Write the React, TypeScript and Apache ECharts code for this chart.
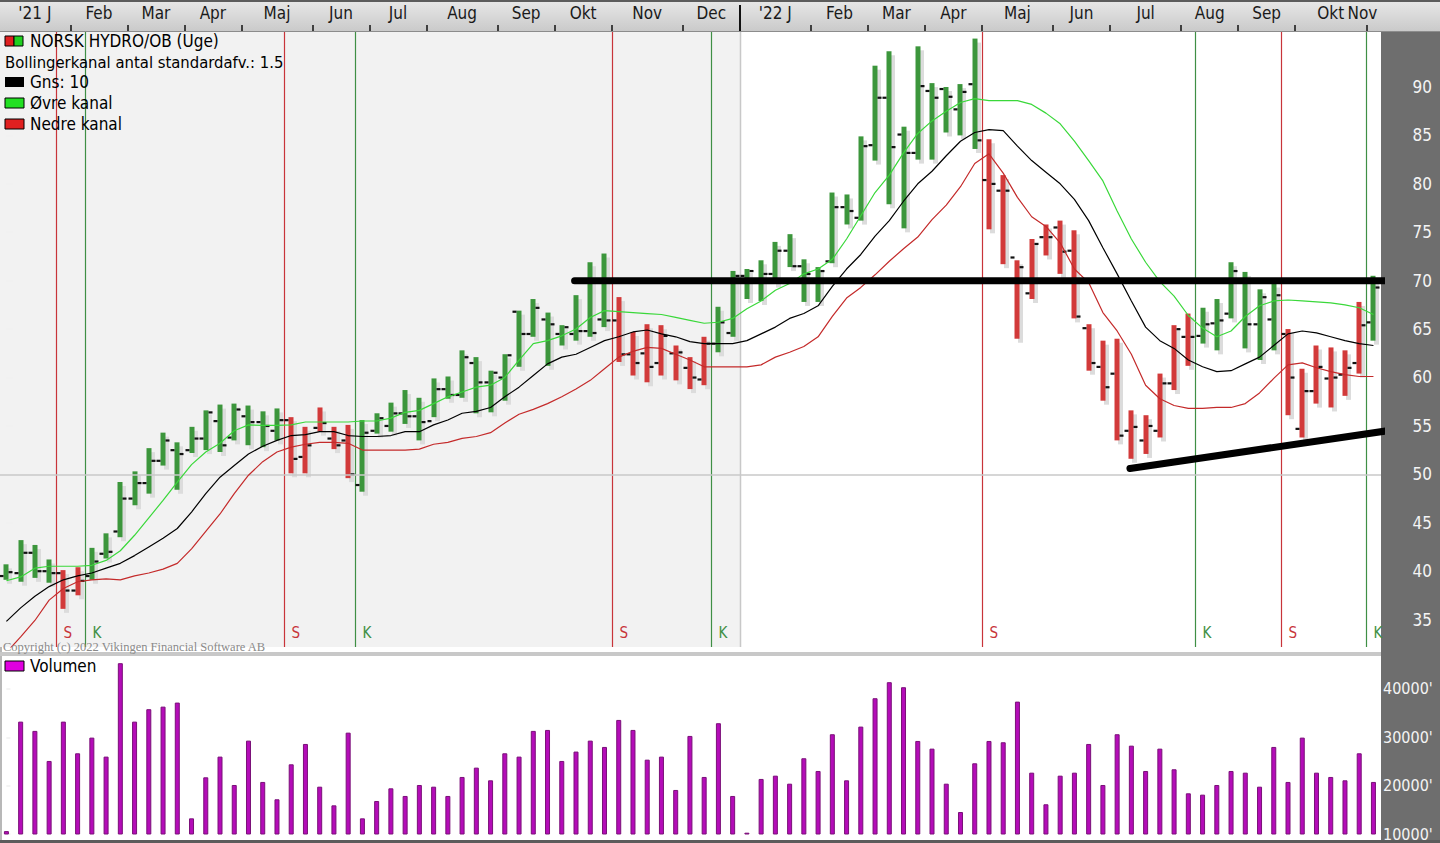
import React, { useEffect, useRef } from "react";
import * as echarts from "echarts";

// ---------- DATA (weekly bars, Jan 2021 - Nov 2022) ----------
const highs = [
  40.7, 43.2, 42.7, 41.2, 40.1, 40.4, 42.4, 43.9, 49.2, 50.3,
  52.7, 54.3, 53.3, 54.9, 56.6, 57.2, 57.3, 57.1, 56.5, 56.8,
  55.9, 54.9, 56.9, 54.9, 55.1, 55.6, 56.3, 57.4, 58.7, 57.9,
  59.9, 60.1, 62.8, 62.1, 60.7, 62.4, 66.9, 68.1, 66.7, 65.4,
  68.5, 71.9, 72.8, 68.3, 64.7, 65.5, 65.4, 63.3, 62.1, 64.2,
  67.3, 71.0, 71.2, 72.1, 74.0, 74.8, 72.2, 71.4, 79.1, 78.9,
  84.9, 92.2, 93.7, 85.9, 94.2, 90.4, 90.0, 90.3, 95.0, 84.6,
  80.9, 72.1, 74.3, 75.8, 76.2, 75.2, 65.5, 63.8, 64.0, 56.6,
  56.1, 60.4, 65.4, 66.6, 67.2, 68.1, 71.9, 70.9, 69.1, 69.7,
  65.0, 60.9, 63.3, 63.1, 62.8, 67.8, 70.5,
];
const lows = [
  39.1, 38.9, 39.3, 38.8, 36.1, 37.5, 39.1, 41.3, 43.5, 46.8,
  48.0, 50.9, 48.4, 52.2, 52.5, 52.3, 53.5, 53.0, 52.8, 53.5,
  50.1, 50.1, 54.4, 52.6, 49.6, 48.2, 54.2, 54.4, 55.2, 53.5,
  55.9, 57.8, 57.9, 56.3, 56.4, 57.6, 61.1, 64.2, 61.2, 63.3,
  63.8, 64.2, 65.2, 61.6, 60.2, 59.5, 60.2, 59.7, 58.8, 59.2,
  62.6, 64.2, 68.1, 67.9, 69.7, 71.4, 67.8, 67.8, 71.8, 75.8,
  76.2, 82.4, 77.9, 75.4, 82.5, 82.5, 85.3, 85.0, 83.6, 75.3,
  71.7, 64.0, 68.1, 72.6, 70.7, 66.1, 60.7, 57.6, 53.5, 51.6,
  52.1, 53.8, 58.7, 61.2, 63.5, 62.8, 66.1, 63.0, 61.8, 62.8,
  56.1, 53.8, 57.3, 56.9, 58.1, 60.4, 63.8,
];
const opens = [
  39.5, 39.8, 41.9, 40.0, 39.8, 38.0, 39.5, 41.8, 44.1, 47.5,
  49.1, 51.4, 52.5, 52.5, 53.7, 55.5, 53.8, 56.0, 55.4, 54.5,
  55.6, 51.8, 54.8, 53.7, 53.5, 48.9, 54.5, 55.0, 56.3, 56.0,
  55.5, 58.8, 58.2, 61.5, 59.5, 60.0, 66.8, 64.5, 66.0, 64.5,
  64.5, 64.8, 66.0, 65.9, 62.4, 62.5, 61.5, 62.5, 61.0, 59.8,
  63.5, 64.6, 70.5, 70.0, 70.7, 73.1, 71.5, 70.0, 72.0, 77.6,
  76.5, 84.0, 88.9, 85.1, 83.2, 89.6, 89.8, 87.7, 90.3, 80.4,
  79.3, 72.4, 68.7, 74.5, 75.5, 73.1, 65.1, 61.1, 60.4, 54.5,
  53.5, 54.5, 59.4, 64.2, 64.3, 65.6, 66.6, 70.0, 65.5, 66.0,
  64.5, 54.7, 58.6, 59.9, 60.3, 61.5, 65.7,
];
const closes = [
  39.9, 41.9, 40.0, 39.8, 38.0, 39.0, 41.0, 42.0, 47.5, 49.1,
  51.4, 53.5, 52.1, 53.7, 56.4, 53.0, 56.7, 55.4, 55.0, 55.6,
  51.6, 53.0, 55.3, 53.0, 50.0, 54.3, 55.8, 56.3, 56.0, 55.4,
  58.8, 58.2, 62.1, 59.5, 60.5, 62.3, 64.5, 67.2, 65.5, 65.2,
  64.8, 64.6, 65.9, 62.4, 61.5, 61.1, 64.3, 62.6, 60.0, 63.5,
  65.7, 70.5, 71.0, 70.7, 73.1, 71.5, 70.7, 71.0, 77.6, 77.2,
  83.9, 88.9, 83.8, 83.2, 90.1, 88.9, 89.0, 89.5, 84.5, 80.0,
  79.3, 71.4, 73.8, 74.5, 73.0, 66.3, 61.5, 59.0, 54.0, 54.9,
  55.0, 59.4, 65.0, 64.2, 65.5, 65.9, 71.0, 65.5, 68.3, 68.5,
  60.0, 58.6, 61.1, 60.0, 61.0, 65.4, 69.3,
];
const sma10 = [
  34.8, 36.2, 37.4, 38.4, 39.1, 39.5, 39.8, 40.3, 40.8, 41.6,
  42.5, 43.4, 44.4, 46.1, 48.0, 49.7, 50.9, 52.1, 52.9, 53.5,
  54.0, 54.1, 54.4, 54.4, 54.0, 53.9, 53.9, 54.0, 54.4, 54.4,
  55.1, 55.6, 56.3, 56.5, 56.9, 58.0, 59.0, 60.2, 61.4, 62.1,
  62.4, 63.1, 63.8, 64.2, 64.7, 64.9, 64.5, 64.2, 63.7, 63.5,
  63.5, 63.5, 63.8, 64.5, 65.2, 66.1, 66.6, 67.4, 69.4, 71.2,
  72.7, 74.6, 76.2, 78.2, 80.0, 81.3, 82.9, 84.4, 85.3, 85.6,
  85.5, 83.9, 82.4, 81.2, 80.0, 78.4, 76.2, 73.4, 70.7, 67.9,
  65.2, 63.8, 63.0, 61.8, 61.1, 60.6, 60.7, 61.4, 62.1, 63.3,
  64.5, 64.8, 64.6, 64.2, 63.8, 63.5, 63.3,
];
const upperBand = [
  39.0, 39.4, 40.3, 40.5, 40.5, 40.5, 40.6, 41.1, 42.1, 43.7,
  45.5, 47.3, 49.2, 51.0, 52.3, 53.2, 54.5, 55.1, 55.05, 55.05,
  55.1, 55.4, 55.4, 55.4, 55.4, 55.5, 55.5, 55.8, 56.4, 56.6,
  57.3, 58.0, 58.5, 59.0, 59.2, 60.0, 61.8, 63.5, 63.8, 64.3,
  65.0, 66.2, 66.9, 66.8, 66.7, 66.6, 66.5, 66.2, 65.9, 65.6,
  65.7, 66.1, 67.1, 67.9, 69.0, 69.7, 70.7, 71.2, 72.2, 74.3,
  76.7, 79.1, 80.9, 83.2, 85.2, 86.5, 87.5, 88.4, 88.8, 88.6,
  88.6, 88.6, 88.2, 87.3, 86.2, 84.4, 82.4, 80.3, 77.2, 74.3,
  71.9, 69.9, 68.4, 66.4, 65.1, 64.2, 64.8, 66.3, 67.4, 67.9,
  68.0, 67.9, 67.8, 67.7, 67.5, 67.2, 66.5,
];
const lowerBand = [
  31.6, 33.2, 34.9, 37.0, 38.2, 38.9, 39.1, 39.2, 39.1, 39.5,
  39.8, 40.2, 40.8, 42.3, 44.1, 45.9, 48.0, 49.9, 51.3, 52.3,
  52.8, 53.1, 53.3, 53.3, 53.2, 52.5, 52.5, 52.5, 52.5, 52.6,
  53.1, 53.3, 53.7, 53.9, 54.3, 55.3, 56.2, 56.7, 57.3, 58.0,
  58.8, 59.7, 60.9, 62.1, 62.7, 63.1, 63.0, 62.4, 61.8, 61.1,
  61.1, 61.1, 61.1, 61.3, 62.1, 62.6, 63.2, 64.2, 66.3, 68.2,
  69.3, 70.6, 72.0, 73.3, 74.5, 76.3, 77.8, 79.7, 82.1, 83.1,
  81.1, 78.6, 76.6, 75.6, 73.9, 71.2, 69.8, 66.7, 64.8, 62.4,
  59.2, 57.8, 57.1, 56.8, 56.8, 56.9, 56.9, 57.3, 58.4, 59.9,
  61.3, 61.5, 61.0, 60.6, 60.3, 60.1, 60.1,
];
const volume = [
  10600, 33250, 31330, 25110, 33250, 26700, 29940, 26010, 45340, 33250,
  35820, 36350, 37190, 13240, 21730, 26010, 20140, 29320, 20770, 17180,
  24420, 28630, 19790, 15930, 30970, 13240, 16830, 19450, 17870, 20140,
  19790, 17870, 21800, 23730, 21110, 26700, 26010, 31330, 31530, 25110,
  27050, 29320, 28010, 33600, 31530, 25380, 26010, 19110, 30290, 21800,
  32920, 17870, 10270, 21390, 22070, 20410, 25670, 23040, 30640, 21110,
  32220, 38090, 41410, 40370, 29250, 27660, 20410, 14550, 24630, 29250,
  28980, 37390, 22690, 16150, 22070, 22690, 28630, 20140, 30640, 28280,
  23040, 27660, 23390, 18420, 18140, 20140, 23040, 22690, 19790, 28010,
  20770, 29940, 22690, 21800, 21110, 26700, 20770,
];
// week index where a signal occurs (S = sell, K = buy)
const sellSignals = [4, 20, 43, 69, 90];
const buySignals = [6, 25, 50, 84, 96];
// calendar: week index boundary where each month starts
const monthStarts = [-0.5, 4.5, 8.5, 12.5, 16.5, 21.5, 25.5, 29.5, 34.5, 38.5, 42.5, 47.5,
  51.5, 56.5, 60.5, 64.5, 68.5, 73.5, 77.5, 82.5, 86.5, 90.5, 95.5];
const monthNames = ["'21 J", "Feb", "Mar", "Apr", "Maj", "Jun", "Jul", "Aug", "Sep", "Okt", "Nov", "Dec",
  "'22 J", "Feb", "Mar", "Apr", "Maj", "Jun", "Jul", "Aug", "Sep", "Okt", "Nov"];
const yearStarts = [51.5];
const priceTicks = [35, 40, 45, 50, 55, 60, 65, 70, 75, 80, 85, 90];
const volumeTicks = [10000, 20000, 30000, 40000];
const resistanceLine = [[39.9, 70.0], [97.0, 70.0]];
const supportLine = [[78.9, 50.6], [97.0, 54.5]];
const legendTitle = "NORSK HYDRO/OB (Uge)";
const legendBollinger = "Bollingerkanal antal standardafv.: 1.5";
const legendSma = "Gns: 10";
const legendUpper = "Øvre kanal";
const legendLower = "Nedre kanal";
const legendVolume = "Volumen";
const copyright = "Copyright (c) 2022 Vikingen Financial Software AB";

// ---------- STYLE ----------
const FONT = "'Liberation Sans Narrow', 'DejaVu Sans Condensed', 'Arial Narrow', sans-serif";
const X_MIN = -0.45;
const X_MAX = 96.53;
const GREEN = "#3c963c";
const RED = "#d23a3a";
const SIG_RED = "#c8343a";
const SIG_GREEN = "#3f8f45";

function regimeIsBuy(i: number) {
  let last = -1;
  let buy = true;
  for (const s of sellSignals) if (s <= i && s > last) { last = s; buy = false; }
  for (const b of buySignals) if (b <= i && b > last) { last = b; buy = true; }
  return buy;
}

function buildOption() {
  const monthCenters = monthStarts.map((s, k) =>
    k < monthStarts.length - 1 ? (s + monthStarts[k + 1]) / 2 : Math.min((s + X_MAX) / 2, X_MAX - 1.3)
  );
  const headerTicks = monthStarts.filter((v) => v > X_MIN && !yearStarts.includes(v));
  const ohlc = highs.map((h, i) => [i, opens[i], h, lows[i], closes[i]]);
  const line = (arr: number[]) => arr.map((v, i) => [i, v]);

  const signalSeries = (sig: number[], label: string, color: string) => ({
    type: "custom",
    xAxisIndex: 0,
    yAxisIndex: 0,
    z: 3,
    silent: true,
    data: sig.map((i) => [i, 0]),
    encode: { x: 0, y: 1 },
    renderItem: (params: any, api: any) => {
      const cs = params.coordSys;
      const px = Math.round(api.coord([api.value(0) - 0.5, 50])[0]) + 0.5;
      return {
        type: "group",
        children: [
          { type: "line", shape: { x1: px, y1: cs.y, x2: px, y2: cs.y + cs.height }, style: { stroke: color, lineWidth: 1.2 } },
          {
            type: "text",
            x: px + 7,
            y: cs.y + cs.height - 7,
            style: { text: label, fill: color, fontSize: 15, fontFamily: FONT, align: "left", verticalAlign: "bottom" },
          },
        ],
      };
    },
  });

  return {
    animation: false,
    grid: [
      { left: 0, top: 32, width: 1381, height: 615 },
      { left: 0, top: 657, width: 1381, height: 177 },
      { left: 0, top: 0, width: 1381, height: 31 },
    ],
    xAxis: [
      { gridIndex: 0, type: "value", min: X_MIN, max: X_MAX, show: false },
      { gridIndex: 1, type: "value", min: X_MIN, max: X_MAX, show: false },
      {
        gridIndex: 2, type: "value", min: X_MIN, max: X_MAX, position: "bottom",
        axisLine: { show: false }, splitLine: { show: false },
        axisTick: { show: true, inside: true, length: 6, customValues: headerTicks, lineStyle: { color: "#111", width: 1.5 } },
        axisLabel: {
          show: true, inside: true, margin: 10, customValues: monthCenters,
          color: "#1a1a1a", fontSize: 17, fontFamily: FONT,
          formatter: (v: number) => {
            let best = 0;
            monthCenters.forEach((c, k) => { if (Math.abs(c - v) < Math.abs(monthCenters[best] - v)) best = k; });
            return monthNames[best];
          },
        },
      },
    ],
    yAxis: [
      {
        gridIndex: 0, type: "value", position: "right", min: 32.16, max: 95.68,
        axisLine: { show: false }, splitLine: { show: false },
        axisTick: { show: true, customValues: priceTicks, length: 7, lineStyle: { color: "#f0f0f0", width: 1.5 } },
        axisLabel: { customValues: priceTicks, align: "right", margin: 51, color: "#f4f4f4", fontSize: 17, fontFamily: FONT },
      },
      {
        gridIndex: 1, type: "value", position: "right", min: 10000, max: 46620,
        axisLine: { show: false }, splitLine: { show: false },
        axisTick: { show: true, customValues: volumeTicks, length: 4, lineStyle: { color: "#f0f0f0", width: 1.5 } },
        axisLabel: { customValues: volumeTicks, align: "left", margin: 2, color: "#f4f4f4", fontSize: 16, fontFamily: FONT, formatter: (v: number) => v + "'" },
      },
      { gridIndex: 2, type: "value", min: 0, max: 1, show: false },
    ],
    series: [
      // 2021 background + year separator + 50-level gridline
      {
        type: "custom", xAxisIndex: 0, yAxisIndex: 0, z: 0, silent: true,
        data: yearStarts.map((v) => [v, 50]),
        encode: { x: 0, y: 1 },
        renderItem: (params: any, api: any) => {
          const cs = params.coordSys;
          const px = Math.round(api.coord([api.value(0), 50])[0]) + 0.5;
          return {
            type: "group",
            children: [
              { type: "rect", shape: { x: cs.x, y: cs.y, width: px - cs.x, height: cs.height }, style: { fill: "#f2f2f2" } },
              { type: "line", shape: { x1: px, y1: cs.y, x2: px, y2: cs.y + cs.height }, style: { stroke: "#c8c8c8", lineWidth: 1.5 } },
            ],
          };
        },
        markLine: {
          silent: true, symbol: "none", label: { show: false },
          lineStyle: { color: "#c8c8c8", width: 1.5, type: "solid" },
          data: [{ yAxis: 50 }],
        },
      },
      signalSeries(sellSignals, "S", SIG_RED),
      signalSeries(buySignals, "K", SIG_GREEN),
      {
        name: legendTitle,
        type: "custom", xAxisIndex: 0, yAxisIndex: 0, z: 4, silent: true,
        data: ohlc,
        encode: { x: 0, y: [1, 2, 3, 4] },
        renderItem: (params: any, api: any) => {
          const i = api.value(0);
          const o = api.coord([i, api.value(1)]);
          const h = api.coord([i, api.value(2)]);
          const l = api.coord([i, api.value(3)]);
          const c = api.coord([i, api.value(4)]);
          const x = Math.round(h[0]);
          const color = regimeIsBuy(i) ? GREEN : RED;
          const hgt = l[1] - h[1];
          return {
            type: "group",
            children: [
              { type: "rect", shape: { x: x + 1, y: h[1] + 4, width: 5, height: hgt }, style: { fill: "#dcdcdc" } },
              { type: "rect", shape: { x: x - 2.5, y: h[1], width: 5, height: hgt }, style: { fill: color } },
              { type: "rect", shape: { x: x - 6.5, y: o[1] - 1, width: 4, height: 2.2 }, style: { fill: "#111" } },
              { type: "rect", shape: { x: x + 2.5, y: c[1] - 1, width: 4, height: 2.2 }, style: { fill: "#111" } },
            ],
          };
        },
      },
      { name: legendUpper, type: "line", xAxisIndex: 0, yAxisIndex: 0, z: 5, data: line(upperBand), symbol: "none", lineStyle: { color: "#3ad83a", width: 1.2 }, silent: true },
      { name: legendLower, type: "line", xAxisIndex: 0, yAxisIndex: 0, z: 5, data: line(lowerBand), symbol: "none", lineStyle: { color: "#c42a2a", width: 1.2 }, silent: true },
      { name: legendSma, type: "line", xAxisIndex: 0, yAxisIndex: 0, z: 5, data: line(sma10), symbol: "none", lineStyle: { color: "#000", width: 1.2 }, silent: true },
      { type: "line", xAxisIndex: 0, yAxisIndex: 0, z: 6, data: resistanceLine, symbol: "none", clip: false, lineStyle: { color: "#000", width: 7, cap: "round" }, silent: true },
      { type: "line", xAxisIndex: 0, yAxisIndex: 0, z: 6, data: supportLine, symbol: "none", clip: false, lineStyle: { color: "#000", width: 7, cap: "round" }, silent: true },
      {
        name: legendVolume, type: "bar", xAxisIndex: 1, yAxisIndex: 1, barWidth: 5,
        data: line(volume),
        itemStyle: { color: "#b40cb8", borderColor: "#7a1078", borderWidth: 1 },
        silent: true,
      },
      // year separator in header
      {
        type: "custom", xAxisIndex: 2, yAxisIndex: 2, z: 3, silent: true,
        data: yearStarts.map((v) => [v, 0]),
        encode: { x: 0, y: 1 },
        renderItem: (params: any, api: any) => {
          const cs = params.coordSys;
          const px = Math.round(api.coord([api.value(0), 0])[0]);
          return { type: "line", shape: { x1: px, y1: cs.y + 5, x2: px, y2: cs.y + cs.height }, style: { stroke: "#111", lineWidth: 2 } };
        },
      },
    ],
    graphic: [
      { type: "rect", z: 100, shape: { x: 5, y: 36, width: 9, height: 10 }, style: { fill: "#e02020", stroke: "#000", lineWidth: 1 } },
      { type: "rect", z: 100, shape: { x: 14, y: 36, width: 9, height: 10 }, style: { fill: "#20d020", stroke: "#000", lineWidth: 1 } },
      { type: "text", z: 100, x: 30, y: 41, style: { text: legendTitle, fill: "#000", fontSize: 17, fontFamily: FONT, verticalAlign: "middle" } },
      { type: "text", z: 100, x: 5, y: 62, style: { text: legendBollinger, fill: "#000", fontSize: 16.5, fontFamily: FONT, verticalAlign: "middle" } },
      { type: "rect", z: 100, shape: { x: 5, y: 77, width: 19, height: 10 }, style: { fill: "#000" } },
      { type: "text", z: 100, x: 30, y: 82, style: { text: legendSma, fill: "#000", fontSize: 17, fontFamily: FONT, verticalAlign: "middle" } },
      { type: "rect", z: 100, shape: { x: 5, y: 98, width: 19, height: 10 }, style: { fill: "#22e022", stroke: "#000", lineWidth: 1 } },
      { type: "text", z: 100, x: 30, y: 103, style: { text: legendUpper, fill: "#000", fontSize: 17, fontFamily: FONT, verticalAlign: "middle" } },
      { type: "rect", z: 100, shape: { x: 5, y: 119, width: 19, height: 10 }, style: { fill: "#e02020", stroke: "#000", lineWidth: 1 } },
      { type: "text", z: 100, x: 30, y: 124, style: { text: legendLower, fill: "#000", fontSize: 17, fontFamily: FONT, verticalAlign: "middle" } },
      { type: "rect", z: 100, shape: { x: 5, y: 661, width: 19, height: 10 }, style: { fill: "#e000e0", stroke: "#000", lineWidth: 1 } },
      { type: "text", z: 100, x: 30, y: 666, style: { text: legendVolume, fill: "#000", fontSize: 17, fontFamily: FONT, verticalAlign: "middle" } },
      { type: "text", z: 100, x: 3, y: 647, style: { text: copyright, fill: "#8a8a8a", fontSize: 12.5, fontFamily: "'Liberation Serif', 'DejaVu Serif', serif", verticalAlign: "middle" } },
    ],
  };
}

export default function App() {
  const ref = useRef<HTMLDivElement>(null);
  useEffect(() => {
    if (!ref.current) return;
    const chart = echarts.init(ref.current, null, { renderer: "svg" });
    chart.setOption(buildOption() as any);
    return () => chart.dispose();
  }, []);
  return (
    <div style={{ position: "fixed", left: 0, top: 0, width: 1440, height: 843, background: "#ffffff", overflow: "hidden" }}>
      <div style={{ position: "absolute", left: 0, top: 0, width: 1440, height: 32, boxSizing: "border-box", background: "linear-gradient(#e6e6e6, #cacaca)", borderTop: "2px solid #5c5c5c", borderBottom: "1px solid #8c8c8c" }} />
      <div style={{ position: "absolute", left: 1381, top: 32, width: 59, height: 811, background: "#6e6e6e" }} />
      <div style={{ position: "absolute", left: 0, top: 32, width: 2, height: 811, background: "#b8b8b8" }} />
      <div style={{ position: "absolute", left: 0, top: 652, width: 1381, height: 4, background: "#c8c8c8" }} />
      <div style={{ position: "absolute", left: 0, top: 840, width: 1440, height: 3, background: "#5c5c5c" }} />
      <div ref={ref} style={{ position: "absolute", left: 0, top: 0, width: 1440, height: 843 }} />
    </div>
  );
}
